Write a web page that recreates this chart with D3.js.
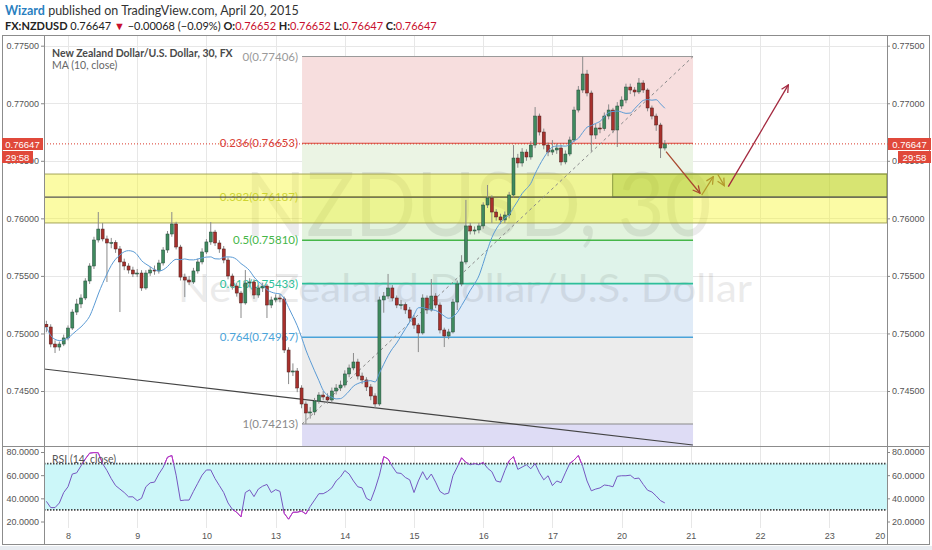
<!DOCTYPE html>
<html><head><meta charset="utf-8">
<script src="https://cdn.jsdelivr.net/npm/d3@7"></script>
<style>body{margin:0;background:#fff}svg{display:block}</style>
</head><body>
<svg id="c" width="932" height="550"></svg>
<script>
// ---------- DATA ----------
const dayTicks = [0,1,2,3,4,5,6,7,8,9,10,11,11.73];
const dayLabels = ["8","9","10","13","14","15","16","17","20","21","22","23","20"];
const priceTicks = [0.745,0.750,0.755,0.760,0.765,0.770,0.775];
const rsiTicks = [20,40,60,80];
const rsiLevels = [70,30];

const FIRST_OPEN = 0.75080;
const BAR_START = -0.3125;   // day position of first bar
const BARS_PER_DAY = 16;

const closes = [0.75056,0.74908,0.74882,0.74908,0.74961,0.75047,0.75186,0.75256,0.75308,0.75456,
0.75586,0.75812,0.75907,0.75821,0.75786,0.75790,0.75734,0.75621,0.75586,0.75551,
0.75517,0.75525,0.75395,0.75525,0.75551,0.75543,0.75612,0.75725,0.75864,0.75951,
0.75751,0.75490,0.75464,0.75447,0.75543,0.75621,0.75708,0.75795,0.75881,0.75786,
0.75734,0.75638,0.75499,0.75412,0.75351,0.75265,0.75438,0.75447,0.75334,0.75395,
0.75412,0.75247,0.75291,0.75308,0.75300,0.74856,0.74665,0.74674,0.74526,0.74387,
0.74309,0.74318,0.74413,0.74465,0.74448,0.74422,0.74500,0.74526,0.74552,0.74648,
0.74700,0.74752,0.74630,0.74596,0.74535,0.74457,0.74387,0.75291,0.75325,0.75395,
0.75308,0.75247,0.75250,0.75204,0.75134,0.75073,0.75004,0.75308,0.75204,0.75325,
0.75247,0.75030,0.74978,0.75013,0.75273,0.75430,0.75621,0.75934,0.75890,0.75899,
0.75934,0.76116,0.76177,0.76055,0.76012,0.75986,0.76029,0.76203,0.76524,0.76481,
0.76576,0.76533,0.76637,0.76889,0.76750,0.76637,0.76576,0.76594,0.76611,0.76490,
0.76559,0.76681,0.76941,0.77115,0.77254,0.77089,0.76724,0.76785,0.76780,0.76889,
0.76941,0.76768,0.76976,0.77028,0.77141,0.77115,0.77098,0.77176,0.77115,0.76959,
0.76889,0.76811,0.76611,0.76647];

const highs = [0.75110,0.75080,0.74940,0.74930,0.74990,0.75070,0.75210,0.75300,0.75340,0.75480,
0.75610,0.75840,0.76055,0.75960,0.75850,0.75830,0.75810,0.75760,0.75650,0.75610,
0.75580,0.75560,0.75550,0.75550,0.75580,0.75590,0.75640,0.75750,0.75890,0.76055,
0.75970,0.75770,0.75520,0.75500,0.75570,0.75650,0.75740,0.75820,0.75968,0.75900,
0.75810,0.75760,0.75660,0.75520,0.75440,0.75370,0.75551,0.75480,0.75470,0.75420,
0.75440,0.75430,0.75320,0.75340,0.75340,0.75320,0.74880,0.74740,0.74700,0.74550,
0.74410,0.74360,0.74440,0.74490,0.74500,0.74480,0.74530,0.74560,0.74590,0.74680,
0.74730,0.74830,0.74780,0.74660,0.74620,0.74560,0.74480,0.75320,0.75360,0.75517,
0.75420,0.75330,0.75290,0.75270,0.75230,0.75160,0.75090,0.75340,0.75330,0.75473,
0.75350,0.75270,0.75050,0.75040,0.75300,0.75460,0.75680,0.76160,0.75960,0.75930,
0.75960,0.76140,0.76290,0.76200,0.76080,0.76040,0.76060,0.76230,0.76637,0.76560,
0.76610,0.76600,0.76670,0.76967,0.76910,0.76780,0.76660,0.76680,0.76650,0.76640,
0.76590,0.76710,0.76970,0.77150,0.77406,0.77290,0.77110,0.76820,0.76830,0.76920,
0.76990,0.76960,0.77010,0.77060,0.77170,0.77170,0.77140,0.77219,0.77200,0.77130,
0.76980,0.76910,0.76830,0.76680];

const lows = [0.75010,0.74880,0.74830,0.74850,0.74890,0.74940,0.75030,0.75160,0.75220,0.75290,
0.75430,0.75560,0.75790,0.75800,0.75447,0.75740,0.75700,0.75186,0.75550,0.75520,
0.75490,0.75490,0.75370,0.75380,0.75500,0.75510,0.75520,0.75590,0.75700,0.75840,
0.75730,0.75460,0.75316,0.75420,0.75430,0.75520,0.75600,0.75690,0.75770,0.75760,
0.75700,0.75610,0.75470,0.75380,0.75320,0.75134,0.75250,0.75400,0.75300,0.75310,
0.75360,0.75134,0.75220,0.75270,0.75270,0.74830,0.74560,0.74630,0.74490,0.74350,
0.74213,0.74260,0.74290,0.74390,0.74420,0.74390,0.74400,0.74470,0.74500,0.74530,
0.74620,0.74680,0.74600,0.74560,0.74500,0.74420,0.74353,0.74370,0.75180,0.75300,
0.75280,0.75220,0.75210,0.75170,0.75100,0.75040,0.74838,0.74990,0.75170,0.75190,
0.75220,0.75000,0.74882,0.74950,0.75000,0.75204,0.75410,0.75600,0.75860,0.75860,
0.75870,0.75910,0.76090,0.75960,0.75980,0.75950,0.75960,0.76000,0.76180,0.76440,
0.76450,0.76500,0.76510,0.76610,0.76720,0.76600,0.76540,0.76550,0.76560,0.76460,
0.76470,0.76540,0.76660,0.76920,0.77090,0.77060,0.76580,0.76690,0.76740,0.76760,
0.76860,0.76740,0.76620,0.76950,0.77000,0.77080,0.77060,0.77080,0.77090,0.76930,
0.76860,0.76760,0.76524,0.76590];

const rsiValues = [37.4,32,32,36,45,50,61,62,68,74,
79,79.5,79.3,70,64,57,51,48,45,41.3,
41.3,38,40,50,53.4,54,61,66.7,75.5,77,
60,38,38.5,38.5,46,53,60,64.5,64.5,57,
51,45,36,30.5,28,24,45,47.3,41.5,48,
50.5,52,45,47.5,46,27,22,28,28,29,
26.5,33,38.5,44,44,46,49,55,58.5,64,
61,55,50,49,40,38,48,60,76,74,
67.5,62,61.5,58,56,45,55,63,56,61,
54,46,43.5,44.5,59.5,67,75,71,69,70,
69,71,66,63,55,54,64,72.5,76,65,
67,69,65.5,70,62,56,59.5,51,55,53.5,
62,70,73,77,67.5,55,46.5,48,49,51.5,
51,50,59,59.5,59.5,60,57,57.5,52,47,
45.5,42,38,36];

const fibRatios = ["0","0.236","0.382","0.5","0.618","0.764","1"];
const fibPrices = [0.77406,0.76653,0.76187,0.75810,0.75433,0.74967,0.74213];
const fibStartDay = 3.382, fibEndDay = 9.032;
const fibExtraLow = 0.7380;

const lastPrice = 0.76647;
const countdown = "29:58";
const trendDays = [-0.347, 9.03];
const trendPrices = [0.74691, 0.74031];
const zoneTop = 0.76385, zoneMid = 0.76185, zoneBottom = 0.75960;
const greenZoneStartDay = 7.871;
const arrowFromDays = [8.642, 9.158, 9.389, 9.542];
const arrowFromPrices = [0.76579, 0.76203, 0.76383, 0.76275];
const arrowToDays = [9.133, 9.325, 9.484, 10.409];
const arrowToPrices = [0.76218, 0.76362, 0.76284, 0.77159];

// ---------- LAYOUT ----------
const svg = d3.select("#c");
const X0 = 44, X1 = 887, Y0 = 35, YM = 446, YB = 544;
const x = d3.scaleLinear().domain([-0.347, 11.835]).range([X0, X1]);
const y = d3.scaleLinear().domain([0.745, 0.775]).range([391, 45.7]);
const yr = d3.scaleLinear().domain([20, 80]).range([521.5, 452]);
const barDay = i => BAR_START + i / BARS_PER_DAY;
const AX = "Liberation Sans, Arial, sans-serif";
const UI = "Lato, 'Open Sans', sans-serif";

svg.append("rect").attr("width",932).attr("height",550).attr("fill","#fff");
svg.append("rect").attr("x",0).attr("y",546).attr("width",932).attr("height",4).attr("fill","#e8ecf1");

const defs = svg.append("defs");
defs.append("clipPath").attr("id","clipMain").append("rect")
  .attr("x",X0).attr("y",Y0).attr("width",X1-X0).attr("height",YM-Y0);
defs.append("clipPath").attr("id","clipRsi").append("rect")
  .attr("x",X0).attr("y",YM).attr("width",X1-X0).attr("height",YB-YM);
defs.append("clipPath").attr("id","clipOB").append("rect")
  .attr("x",X0).attr("y",YM).attr("width",X1-X0).attr("height",yr(70)-YM);
defs.append("clipPath").attr("id","clipOS").append("rect")
  .attr("x",X0).attr("y",yr(30)).attr("width",X1-X0).attr("height",YB-yr(30));

const arrowColors = ["#a9482f","#b39a2c","#b39a2c","#a3283e"];
arrowColors.forEach((c,i)=>{
  defs.append("marker").attr("id","ah"+i).attr("viewBox","0 0 10 10")
    .attr("refX",9).attr("refY",5).attr("markerWidth",9).attr("markerHeight",9)
    .attr("markerUnits","userSpaceOnUse").attr("orient","auto")
    .append("path").attr("d","M1,1 L9,5 L1,9").attr("fill","none")
    .attr("stroke",c).attr("stroke-width",1.4);
});

// ---------- HEADER ----------
const h1 = svg.append("text").attr("x",5).attr("y",15).attr("font-family",UI).attr("font-size",12.5);
h1.append("tspan").attr("fill","#2a7fbf").attr("font-weight","bold").text("Wizard");
h1.append("tspan").attr("fill","#333").text(" published on TradingView.com, April 20, 2015");
const h2 = svg.append("text").attr("x",5).attr("y",30).attr("font-family",UI).attr("font-size",11).attr("fill","#222");
h2.append("tspan").attr("font-weight","bold").text("FX:NZDUSD");
h2.append("tspan").text(" 0.76647 ");
h2.append("tspan").attr("fill","#c8102e").text("▼");
h2.append("tspan").text(" \u22120.00068 (\u22120.09%) ");
[["O:","0.76652"],["H:","0.76652"],["L:","0.76647"],["C:","0.76647"]].forEach(([k,v],i)=>{
  h2.append("tspan").attr("font-weight","bold").text((i?" ":"")+k);
  h2.append("tspan").attr("fill","#c8102e").text(v);
});

// ---------- GRID ----------
const grid = svg.append("g");
grid.selectAll(".hg").data(priceTicks).join("line")
  .attr("x1",X0).attr("x2",X1).attr("y1",d=>Math.round(y(d))+0.5).attr("y2",d=>Math.round(y(d))+0.5)
  .attr("stroke","#e7e7e7");
grid.selectAll(".vg").data(dayTicks.slice(0,12)).join("line")
  .attr("x1",d=>Math.round(x(d))+0.5).attr("x2",d=>Math.round(x(d))+0.5)
  .attr("y1",Y0).attr("y2",528).attr("stroke","#e7e7e7");

// ---------- MAIN PANEL ----------
const main = svg.append("g").attr("clip-path","url(#clipMain)");

// fib zones
const zoneFill = ["#f7dede","#ebf4e4","#e3f3de","#dff3ea","#e0ebf7","#ececec","#dedcf5"];
const fibColor = ["#9a9a9a","#d9433a","#b3bd3a","#45b649","#2dbf9a","#4aa3d9","#8a8a8a"];
const fxa = x(fibStartDay), fxb = x(fibEndDay);
const zoneEdges = fibPrices.concat([fibExtraLow]);
main.selectAll(".fz").data(d3.range(fibPrices.length)).join("rect")
  .attr("x",fxa).attr("width",fxb-fxa)
  .attr("y",i=>y(zoneEdges[i])).attr("height",i=>y(zoneEdges[i+1])-y(zoneEdges[i]))
  .attr("fill",i=>zoneFill[i]);

// watermark
main.append("text").attr("x",478).attr("y",236).attr("text-anchor","middle")
  .attr("font-family",UI).attr("font-size",90).attr("fill","#000").attr("opacity",0.075)
  .attr("textLength",467).attr("lengthAdjust","spacingAndGlyphs").text("NZDUSD, 30");
main.append("text").attr("x",465).attr("y",302).attr("text-anchor","middle")
  .attr("font-family",UI).attr("font-size",39).attr("fill","#000").attr("opacity",0.075)
  .attr("textLength",574).attr("lengthAdjust","spacingAndGlyphs").text("New Zealand Dollar/U.S. Dollar");

// fib lines
main.selectAll(".fl").data(d3.range(fibPrices.length)).join("line")
  .attr("x1",fxa).attr("x2",fxb)
  .attr("y1",i=>y(fibPrices[i])).attr("y2",i=>y(fibPrices[i]))
  .attr("stroke",i=>fibColor[i]).attr("stroke-width",i=>(i>=3&&i<=5)?1.6:1.1);

// fib labels
main.selectAll(".flab").data(d3.range(fibPrices.length)).join("text")
  .attr("x",fxa-4).attr("y",i=>y(fibPrices[i])+4).attr("text-anchor","end")
  .attr("font-family",UI).attr("font-size",11.5).attr("fill",i=>fibColor[i])
  .text(i=>`${fibRatios[i]}(${fibPrices[i].toFixed(5)})`);

// yellow zone
main.append("rect").attr("x",X0).attr("width",X1-X0)
  .attr("y",y(zoneTop)).attr("height",y(zoneBottom)-y(zoneTop))
  .attr("fill","rgb(245,245,40)").attr("fill-opacity",0.42)
  .attr("stroke","#a6a658").attr("stroke-width",1);
main.append("rect").attr("x",x(greenZoneStartDay)).attr("width",X1-x(greenZoneStartDay))
  .attr("y",y(zoneTop)).attr("height",y(zoneMid)-y(zoneTop))
  .attr("fill","rgb(150,185,20)").attr("fill-opacity",0.35)
  .attr("stroke","#8a9a40").attr("stroke-width",1);
main.append("line").attr("x1",X0).attr("x2",X1).attr("y1",y(zoneMid)).attr("y2",y(zoneMid))
  .attr("stroke","#555").attr("stroke-width",1.2);

// trend line
main.append("line").attr("x1",x(trendDays[0])).attr("y1",y(trendPrices[0]))
  .attr("x2",x(trendDays[1])).attr("y2",y(trendPrices[1]))
  .attr("stroke","#444").attr("stroke-width",1.2);
// fib diagonal
main.append("line").attr("x1",fxa).attr("y1",y(fibPrices[6]))
  .attr("x2",fxb).attr("y2",y(fibPrices[0]))
  .attr("stroke","#8a8a8a").attr("stroke-dasharray","3,3");

// candles
const bars = closes.map((c,i)=>({i, o: i===0?FIRST_OPEN:closes[i-1], c, h: highs[i], l: lows[i]}));
const cg = main.append("g");
cg.selectAll(".wick").data(bars).join("line")
  .attr("x1",d=>x(barDay(d.i))).attr("x2",d=>x(barDay(d.i)))
  .attr("y1",d=>y(d.h)).attr("y2",d=>y(d.l))
  .attr("stroke","#8a8a8a").attr("stroke-width",1);
cg.selectAll(".body").data(bars).join("rect")
  .attr("x",d=>x(barDay(d.i))-1.5).attr("width",3)
  .attr("y",d=>y(Math.max(d.o,d.c)))
  .attr("height",d=>Math.max(1,Math.abs(y(d.o)-y(d.c))))
  .attr("fill",d=>d.c>=d.o?"#3f8a5e":"#a8302c")
  .attr("stroke",d=>d.c>=d.o?"#24493a":"#4a1d1b").attr("stroke-width",0.5);

// MA(10)
const ma = closes.map((c,i)=>d3.mean(closes.slice(Math.max(0,i-9),i+1)));
main.append("path").datum(ma)
  .attr("d",d3.line().x((d,i)=>x(barDay(i))).y(d=>y(d)).curve(d3.curveMonotoneX))
  .attr("fill","none").attr("stroke","#5b9bd5").attr("stroke-width",1);

// arrows
arrowColors.forEach((c,i)=>{
  main.append("line").attr("x1",x(arrowFromDays[i])).attr("y1",y(arrowFromPrices[i]))
    .attr("x2",x(arrowToDays[i])).attr("y2",y(arrowToPrices[i]))
    .attr("stroke",c).attr("stroke-width",1.3).attr("marker-end",`url(#ah${i})`);
});

// last price line
main.append("line").attr("x1",X0).attr("x2",X1).attr("y1",y(lastPrice)).attr("y2",y(lastPrice))
  .attr("stroke","#d9382b").attr("stroke-dasharray","1,2").attr("stroke-width",1);

// titles
svg.append("text").attr("x",52).attr("y",57).attr("font-family",UI).attr("font-size",10.5)
  .attr("font-weight","bold").attr("fill","#4a4a4a").text("New Zealand Dollar/U.S. Dollar, 30, FX");
svg.append("text").attr("x",52).attr("y",69).attr("font-family",UI).attr("font-size",10.5)
  .attr("fill","#666").text("MA (10, close)");

// ---------- RSI PANEL ----------
const rp = svg.append("g").attr("clip-path","url(#clipRsi)");
rp.append("rect").attr("x",X0).attr("width",X1-X0).attr("y",yr(70)).attr("height",yr(30)-yr(70))
  .attr("fill","#ccf7f9");
rp.selectAll(".rl").data(rsiLevels).join("line")
  .attr("x1",X0).attr("x2",X1).attr("y1",d=>yr(d)).attr("y2",d=>yr(d))
  .attr("stroke","#444").attr("stroke-width",1.6).attr("stroke-dasharray","1.5,1.5");
const rline = d3.line().x((d,i)=>x(barDay(i))).y(d=>yr(d));
rp.append("path").datum(rsiValues).attr("d",rline).attr("fill","none")
  .attr("stroke","#7657c0").attr("stroke-width",1);
["clipOB","clipOS"].forEach(id=>{
  svg.append("g").attr("clip-path",`url(#${id})`).append("path").datum(rsiValues).attr("d",rline)
    .attr("fill","none").attr("stroke","#c62fc6").attr("stroke-width",1);
});
svg.append("text").attr("x",52).attr("y",463).attr("font-family",UI).attr("font-size",10.5)
  .attr("fill","#555").text("RSI (14, close)");

// ---------- FRAMES & AXES ----------
svg.append("rect").attr("x",2.5).attr("y",35.5).attr("width",927).attr("height",509)
  .attr("fill","none").attr("stroke","#8c8c8c");
[X0,X1].forEach(v=>svg.append("line").attr("x1",v+0.5).attr("x2",v+0.5).attr("y1",Y0).attr("y2",YB)
  .attr("stroke","#8c8c8c"));
svg.append("line").attr("x1",2).attr("x2",930).attr("y1",YM+0.5).attr("y2",YM+0.5).attr("stroke","#8c8c8c");

const leftAxis = d3.axisLeft(y).tickValues(priceTicks).tickFormat(d3.format(".5f")).tickSize(3).tickPadding(2);
const rightAxis = d3.axisRight(y).tickValues(priceTicks).tickFormat(d3.format(".5f")).tickSize(3).tickPadding(2);
const la = svg.append("g").attr("transform",`translate(${X0},0)`).call(leftAxis);
const ra = svg.append("g").attr("transform",`translate(${X1},0)`).call(rightAxis);
const rla = svg.append("g").attr("transform",`translate(${X0},0)`)
  .call(d3.axisLeft(yr).tickValues(rsiTicks).tickFormat(d3.format(".4f")).tickSize(3).tickPadding(2));
const rra = svg.append("g").attr("transform",`translate(${X1},0)`)
  .call(d3.axisRight(yr).tickValues(rsiTicks).tickFormat(d3.format(".4f")).tickSize(3).tickPadding(2));
const xa = svg.append("g").attr("transform",`translate(0,530)`)
  .call(d3.axisBottom(x).tickValues(dayTicks).tickFormat((d,i)=>dayLabels[i]).tickSize(0).tickPadding(3));
[la,ra,rla,rra,xa].forEach(g=>{
  g.select(".domain").remove();
  g.selectAll("line").attr("stroke","#888");
  g.selectAll("text").attr("font-family",AX).attr("font-size",9).attr("fill","#555");
});

// price tags
function tag(x0,w,y0,txt){
  svg.append("rect").attr("x",x0).attr("y",y0).attr("width",w).attr("height",12).attr("fill","#e0493b");
  svg.append("text").attr("x",x0+w/2).attr("y",y0+9.5).attr("text-anchor","middle")
    .attr("font-family",AX).attr("font-size",9.5).attr("fill","#fff").text(txt);
}
const ty = Math.round(y(lastPrice));
tag(2,41,ty-6,lastPrice.toFixed(5));
tag(2,31,ty+7,countdown);
tag(888,43,ty-6,lastPrice.toFixed(5));
tag(898,33,ty+7,countdown);
svg.append("line").attr("x1",X1).attr("x2",889).attr("y1",ty).attr("y2",ty).attr("stroke","#e0493b");
</script>
</body></html>
